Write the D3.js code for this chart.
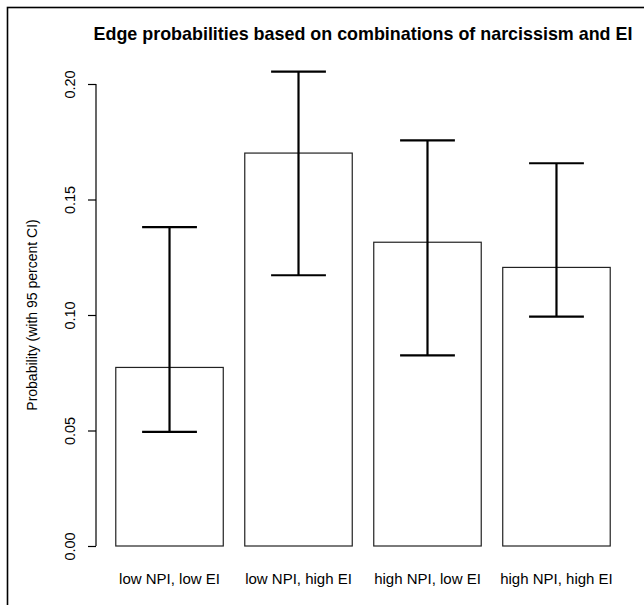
<!DOCTYPE html>
<html><head><meta charset="utf-8">
<script src="https://cdn.jsdelivr.net/npm/d3@7"></script>
<style>body{margin:0;background:#fff}svg{display:block}text{font-family:"Liberation Sans",Arial,sans-serif;fill:#000}</style>
</head><body><svg id="c" width="644" height="605"></svg>
<script>
const categories = ["low NPI, low EI","low NPI, high EI","high NPI, low EI","high NPI, high EI"];
const probability = [0.0773, 0.1701, 0.1315, 0.1206];
const ciLower = [0.0494, 0.1172, 0.0825, 0.0993];
const ciUpper = [0.1380, 0.2054, 0.1756, 0.1657];
const yTicks = [0, 0.05, 0.10, 0.15, 0.20];
const title = "Edge probabilities based on combinations of narcissism and EI";
const yLabel = "Probability (with 95 percent CI)";

const svg = d3.select("#c");
// figure frame (extends past right/bottom edge)
svg.append("rect").attr("x",7.5).attr("y",7.5).attr("width",700).attr("height",700)
  .attr("fill","none").attr("stroke","#000").attr("stroke-width",1.6);

const space = 0.2, width = 1;
const lo = space, hi = categories.length*(width+space);
const ext = (hi-lo)*0.04;
const x = d3.scaleLinear().domain([lo-ext, hi+ext]).range([96, 630]);
const y = d3.scaleLinear().domain([0, 0.2]).range([546, 84]);
const left = i => space + i*(width+space);
const mid = i => left(i) + width/2;

// bars
svg.selectAll("rect.bar").data(probability).enter().append("rect").attr("class","bar")
  .attr("x",(d,i)=>x(left(i))).attr("width",(d,i)=>x(left(i)+width)-x(left(i)))
  .attr("y",d=>y(d)).attr("height",d=>y(0)-y(d))
  .attr("fill","none").attr("stroke","#222").attr("stroke-width",1.2);

// y axis
const ax = svg.append("g").attr("transform","translate(96,0)")
  .call(d3.axisLeft(y).tickValues(yTicks).tickFormat(d3.format(".2f")).tickSize(8).tickPadding(0));
ax.select(".domain").attr("d",`M0,${y(0)}V${y(0.2)}`).attr("stroke","#000").attr("stroke-width",1.2);
ax.selectAll(".tick line").attr("stroke","#000").attr("stroke-width",1.2);
ax.selectAll(".tick text").attr("x",null).attr("dy",null)
  .attr("transform","translate(-21,0) rotate(-90)").attr("text-anchor","middle")
  .style("font-size","14.5px").style("font-family",'"Liberation Sans",Arial,sans-serif');

// error bars
const cap = 0.255;
const eb = svg.append("g").attr("stroke","#000").attr("stroke-width",2.2);
probability.forEach((p,i)=>{
  eb.append("line").attr("x1",x(mid(i))).attr("x2",x(mid(i))).attr("y1",y(ciLower[i])).attr("y2",y(ciUpper[i]));
  eb.append("line").attr("x1",x(mid(i)-cap)).attr("x2",x(mid(i)+cap)).attr("y1",y(ciUpper[i])).attr("y2",y(ciUpper[i]));
  eb.append("line").attr("x1",x(mid(i)-cap)).attr("x2",x(mid(i)+cap)).attr("y1",y(ciLower[i])).attr("y2",y(ciLower[i]));
});

// category labels
svg.selectAll("text.cat").data(categories).enter().append("text").attr("class","cat")
  .attr("x",(d,i)=>x(mid(i))).attr("y",584).attr("text-anchor","middle")
  .style("font-size","15px").text(d=>d);

// title
svg.append("text").attr("x",(x.range()[0]+x.range()[1])/2).attr("y",40).attr("text-anchor","middle")
  .style("font-size","17.9px").style("font-weight","bold").text(title);

// y label
svg.append("text").attr("transform",`translate(37,${(y(0)+y(0.2))/2}) rotate(-90)`)
  .attr("text-anchor","middle").style("font-size","14px").text(yLabel);
</script></body></html>
